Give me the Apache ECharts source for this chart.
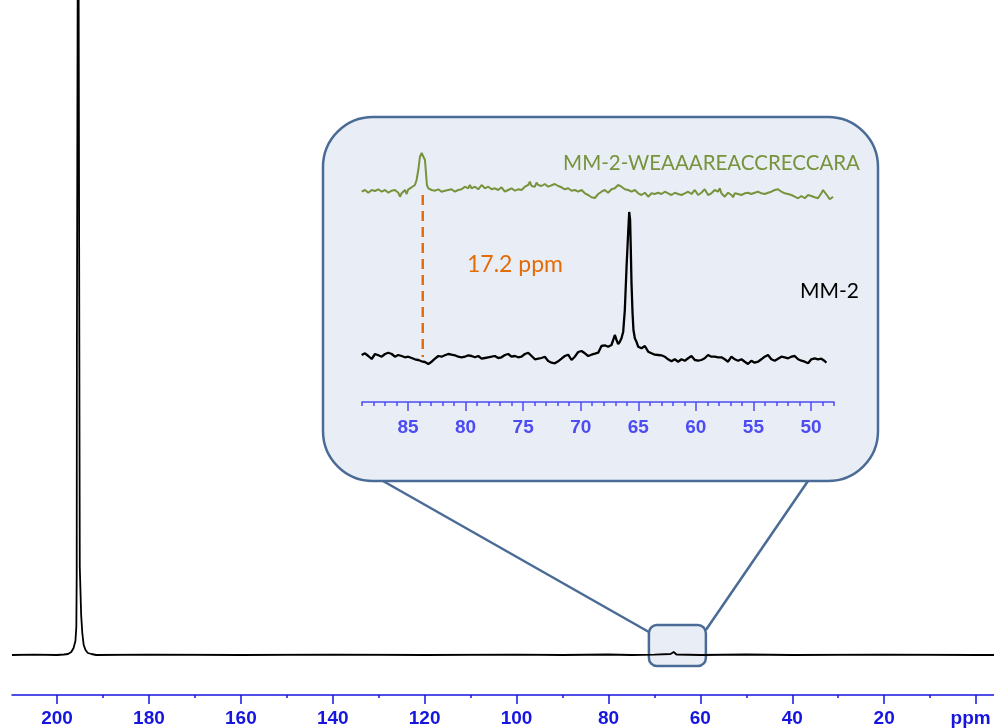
<!DOCTYPE html>
<html><head><meta charset="utf-8">
<script src="https://cdn.jsdelivr.net/npm/echarts@6/dist/echarts.min.js"></script>
<style>html,body{margin:0;padding:0;background:#fff}#c{width:994px;height:728px}</style>
</head><body><div id="c"></div>
<script>
// ---- tick values ----
const mainMajorTicks = [200,180,160,140,120,100,80,60,40,20,0];
const mainMinorTicks = [190,170,150,130,110,90,70,50,30,10];
const insetMajorTicks = [85,80,75,70,65,60,55,50];
const insetMinorTicks = [89,88,87,86,84,83,82,81,79,78,77,76,74,73,72,71,69,68,67,66,64,63,62,61,59,58,57,56,54,53,52,51,49,48];
const mainRange = [-3.9, 209.8];
const insetRange = [48, 89];

// ---- full spectrum [ppm, intensity] ----
const mainSpectrum = [[209.8,0],[205,0.3],[200,0],[198.5,0.5],[197.6,1],[196.9,3],[196.4,7],[196.0,14],[195.8,28],[195.72,80],[195.68,300],[195.45,300],[195.4,900],[195.15,900],[195.05,88],[194.85,88],[194.75,40],[194.5,22],[194.2,10],[193.8,5],[193.3,2],[192.5,1],[191.5,0],[180,0.3],[160,0],[140,0.3],[120,0],[100,0.3],[90,0],[80,0.5],[75,0],[70,0.3],[66.5,1],[65.8,3],[65.2,0.5],[60,0],[50,0.5],[40,0],[20,0.3],[0,0],[-3.9,0]];

// ---- inset: MM-2 [ppm, intensity] ----
const blackSpectrum = [[89.03,2.0],[88.74,3.7],[88.45,1.0],[88.16,-2.0],[87.87,3.0],[87.58,1.7],[87.29,0.3],[87.00,3.0],[86.71,4.3],[86.42,3.0],[86.14,0.3],[85.85,2.0],[85.56,1.0],[85.27,-0.3],[84.98,0.3],[84.69,-1.0],[84.40,-2.3],[84.11,-3.0],[83.82,-4.3],[83.53,-5.0],[83.24,-7.0],[82.95,-4.7],[82.66,-1.7],[82.37,1.0],[82.09,0.3],[81.80,1.7],[81.51,3.0],[81.22,2.3],[80.93,1.7],[80.64,0.3],[80.35,-0.3],[80.06,0.3],[79.77,1.7],[79.48,1.0],[79.19,-0.3],[78.90,1.0],[78.61,-1.7],[78.32,-1.0],[78.03,-0.3],[77.74,0.3],[77.46,1.0],[77.17,-1.0],[76.88,-0.3],[76.59,2.0],[76.30,3.0],[76.01,0.3],[75.72,1.0],[75.43,-0.3],[75.14,0.3],[74.85,3.0],[74.56,4.3],[74.27,1.0],[73.98,-2.3],[73.69,-1.7],[73.41,-1.0],[73.12,0.3],[72.83,-4.0],[72.54,-5.7],[72.25,-6.3],[71.96,-4.3],[71.67,-1.7],[71.38,1.0],[71.09,2.3],[70.80,-3.0],[70.51,0.3],[70.22,5.0],[69.93,6.0],[69.64,3.7],[69.35,1.0],[69.07,2.3],[68.77,3.3],[68.48,4.3],[68.20,11],[67.91,11.7],[67.62,10.3],[67.33,12],[67.18,17],[67.04,22],[66.89,17],[66.75,13],[66.60,15.3],[66.46,18.7],[66.31,25.3],[66.17,47],[66.02,90],[65.88,124],[65.79,145],[65.71,137],[65.65,107],[65.59,74],[65.50,44],[65.42,27],[65.30,18.7],[65.16,15.3],[65.01,10.3],[64.72,8.7],[64.43,11],[64.14,5.3],[63.85,3.7],[63.57,2.3],[63.28,2.0],[62.99,1.7],[62.70,0.3],[62.41,-2.3],[62.12,-4.3],[61.83,-2.3],[61.54,-4.7],[61.25,-2.3],[60.96,-3.7],[60.67,-1.3],[60.38,1.0],[60.09,-3.0],[59.80,-3.7],[59.52,-3.0],[59.23,-1.3],[58.94,2.0],[58.65,0.3],[58.36,0.3],[58.07,-0.3],[57.78,-0.3],[57.49,-2.3],[57.20,-4.7],[56.91,0.3],[56.62,-2.3],[56.33,-3.7],[56.04,-2.3],[55.75,-4.7],[55.47,-7.0],[55.18,-3.7],[54.89,-5.7],[54.60,-4.7],[54.31,-2.3],[54.02,0.3],[53.73,2.0],[53.44,-2.3],[53.15,-3.7],[52.86,-1.7],[52.57,0.3],[52.28,-0.3],[51.99,-1.3],[51.70,0.3],[51.41,1.0],[51.12,-2.3],[50.83,-3.7],[50.54,-4.7],[50.25,-6.3],[49.97,-2.3],[49.68,-1.3],[49.39,-2.3],[49.10,-1.7],[48.81,-4.0],[48.66,-5.7]];

// ---- inset: MM-2-WEAAAREACCRECCARA [ppm, intensity] ----
const greenSpectrum = [[89.03,-1.7],[88.74,0],[88.45,-2.7],[88.16,0],[87.87,-1],[87.58,0.7],[87.29,-1.7],[87.00,0],[86.71,-2.7],[86.42,-0.7],[86.14,0],[85.85,-2.7],[85.70,-6.7],[85.56,-3.3],[85.27,0],[85.12,-4],[84.98,0.7],[84.69,2.7],[84.40,5],[84.26,10],[84.11,20],[83.97,33],[83.82,37],[83.68,38.3],[83.53,30],[83.44,16.7],[83.36,5],[83.24,1.7],[82.95,0],[82.66,-0.7],[82.37,0.7],[82.09,-1.7],[81.80,-0.7],[81.51,0],[81.22,0.7],[80.93,-1.7],[80.64,0],[80.35,0.7],[80.06,3.3],[79.77,1.7],[79.63,5],[79.48,1.7],[79.19,3.3],[78.90,0.7],[78.61,5],[78.32,1.7],[78.03,3.3],[77.74,0.7],[77.46,1.7],[77.17,0],[76.88,2.7],[76.59,-1.7],[76.30,0],[76.01,1.7],[75.72,-0.7],[75.43,0.7],[75.14,0],[74.85,3.3],[74.56,5],[74.42,8.3],[74.27,4],[73.98,3.3],[73.84,7.3],[73.69,5],[73.41,4],[73.12,6],[72.83,3.3],[72.54,4.7],[72.25,6],[71.96,4],[71.67,2.7],[71.38,0.7],[71.09,1.7],[70.80,-0.7],[70.51,0],[70.22,-1.7],[69.93,0],[69.64,-3.3],[69.35,-5],[69.07,-7.3],[68.77,-8],[68.48,-4],[68.20,-1.7],[67.91,0],[67.62,-2.7],[67.33,0.7],[67.04,1.7],[66.75,5],[66.60,6.7],[66.46,3.3],[66.31,5],[66.17,0.7],[65.88,0],[65.59,-1.7],[65.30,0],[65.01,-3.3],[64.72,-5],[64.43,-2.7],[64.14,-6.7],[63.85,-3.3],[63.57,-4],[63.28,-2.7],[62.99,-4],[62.70,-1.7],[62.41,-3.3],[62.12,-5],[61.83,-2.7],[61.54,-4],[61.25,-5],[60.96,-3.3],[60.67,-1.7],[60.38,-4],[60.09,0],[59.80,-5],[59.52,-2.7],[59.23,0.7],[58.94,-5],[58.65,-3.3],[58.36,0],[58.07,-1.7],[57.92,1.7],[57.78,-3.3],[57.49,-6.7],[57.20,-2.7],[56.91,-5],[56.77,-7.3],[56.62,-3.3],[56.33,-4],[56.04,-5],[55.75,-3.3],[55.47,-2.7],[55.18,-4],[54.89,-2.7],[54.60,-1.7],[54.31,-3.3],[54.02,-4],[53.73,-2.7],[53.44,-1.7],[53.15,0],[53.00,1.7],[52.86,0.7],[52.57,-1.7],[52.28,-3.3],[51.99,-4],[51.70,-5],[51.41,-6.7],[51.12,-8.3],[50.98,-10],[50.83,-6],[50.54,-8.3],[50.25,-5],[49.97,-6],[49.68,-7.3],[49.39,-8.3],[49.10,-3.3],[48.95,0],[48.81,-1.7],[48.52,-6.7],[48.37,-9.3],[48.08,-6.7]];

// ---- shift marker (ppm, intensity in MM-2 frame) ----
const shiftMarker = [[83.72,162],[83.72,0]];
const zoomBoxPpm = [71.2, 58.8];
const zoomBoxVal = [30, -11];
const greenName = 'MM-2-WEAAAREACCRECCARA';
const blackName = 'MM-2';
const shiftText = '17.2 ppm';
const unitLabel = 'ppm';

const mainBlue = '#1616e0';
const insetBlue = '#4c4cf2';
const frame = '#4a6b96';
const fill = '#e9eef6';

const chart = echarts.init(document.getElementById('c'), null, {renderer:'canvas'});
const labelFont = {fontFamily:'Liberation Sans', fontWeight:'bold', fontSize:19};

function xAx(grid, range, extra) {
  return Object.assign({gridIndex:grid, type:'value', min:range[0], max:range[1], inverse:true,
    position:'bottom', splitLine:{show:false}}, extra);
}

chart.setOption({
  animation:false,
  backgroundColor:'#fff',
  grid:[
    {left:12, right:0, top:0, bottom:33, outerBoundsMode:'none', containLabel:false},
    {left:362, top:140, width:472, height:262, outerBoundsMode:'none', containLabel:false},
    {left:362, top:140, width:472, height:262, outerBoundsMode:'none', containLabel:false}
  ],
  xAxis:[
    xAx(0, mainRange, {
     axisLine:{show:true, onZero:false, lineStyle:{color:mainBlue, width:1.5}},
     axisTick:{show:true, customValues:mainMajorTicks, length:9, lineStyle:{color:mainBlue, width:1.5}},
     axisLabel:Object.assign({customValues:mainMajorTicks, color:mainBlue, margin:14,
       formatter:v=> v===0 ? '{u|'+unitLabel+'}' : String(v),
       rich:{u:Object.assign({color:mainBlue, padding:[0,11,0,0]}, labelFont)}}, labelFont)}),
    xAx(0, mainRange, {
     axisLine:{show:false, onZero:false},
     axisTick:{show:true, customValues:mainMinorTicks, length:3, lineStyle:{color:mainBlue, width:1.5}},
     axisLabel:{show:false}}),
    xAx(1, insetRange, {z:5,
     axisLine:{show:true, onZero:false, lineStyle:{color:insetBlue, width:1.5}},
     axisTick:{show:true, customValues:insetMajorTicks, length:9, lineStyle:{color:insetBlue, width:1.5}},
     axisLabel:Object.assign({customValues:insetMajorTicks, color:insetBlue, margin:16}, labelFont)}),
    xAx(1, insetRange, {z:5,
     axisLine:{show:false, onZero:false},
     axisTick:{show:true, customValues:insetMinorTicks, length:4, lineStyle:{color:insetBlue, width:1.5}},
     axisLabel:{show:false}}),
    xAx(2, insetRange, {show:false})
  ],
  yAxis:[
    {gridIndex:0, type:'value', min:-40, max:655, show:false},
    {gridIndex:1, type:'value', min:-45, max:217, show:false},
    {gridIndex:2, type:'value', min:-212, max:50, show:false}
  ],
  series:[
    {type:'line', xAxisIndex:0, yAxisIndex:0, data:mainSpectrum, showSymbol:false, clip:true, z:2,
     lineStyle:{color:'#000', width:1.8}},
    {type:'line', name:blackName, xAxisIndex:2, yAxisIndex:1, data:blackSpectrum, showSymbol:false, z:4,
     lineStyle:{color:'#000', width:2.3}},
    {type:'line', xAxisIndex:2, yAxisIndex:1, data:shiftMarker, showSymbol:false, z:4,
     lineStyle:{color:'#e36c09', width:2.5, type:[10,6]}},
    {type:'line', name:greenName, xAxisIndex:4, yAxisIndex:2, data:greenSpectrum, showSymbol:false, z:4,
     lineStyle:{color:'#77933c', width:2}}
  ]
});

const p1 = chart.convertToPixel({xAxisIndex:0, yAxisIndex:0}, [zoomBoxPpm[0], zoomBoxVal[0]]);
const p2 = chart.convertToPixel({xAxisIndex:0, yAxisIndex:0}, [zoomBoxPpm[1], zoomBoxVal[1]]);
const inset = {x:323, y:117, w:555, h:364};
const shadow = {shadowColor:'rgba(0,0,0,0.3)', shadowBlur:2, shadowOffsetX:1, shadowOffsetY:1};

chart.setOption({
  graphic:[
    {type:'rect', z:1, shape:{x:inset.x, y:inset.y, width:inset.w, height:inset.h, r:50},
     style:{fill:fill, stroke:frame, lineWidth:2.5}},
    {type:'rect', z:1, shape:{x:p1[0], y:p1[1], width:p2[0]-p1[0], height:p2[1]-p1[1], r:8},
     style:{fill:fill, stroke:frame, lineWidth:2.5}},
    {type:'line', z:1, shape:{x1:383, y1:inset.y+inset.h, x2:p1[0], y2:p1[1]+7}, style:{stroke:frame, lineWidth:2.5}},
    {type:'line', z:1, shape:{x1:808, y1:inset.y+inset.h, x2:p2[0], y2:p1[1]+5}, style:{stroke:frame, lineWidth:2.5}},
    {type:'text', z:10, style:Object.assign({text:greenName, x:860, y:163, fill:'#77933c', font:'20.5px Lato', align:'right', verticalAlign:'middle'}, shadow)},
    {type:'text', z:10, style:Object.assign({text:shiftText, x:467, y:265, fill:'#e36c09', font:'23px Lato', align:'left', verticalAlign:'middle'}, shadow)},
    {type:'text', z:10, style:Object.assign({text:blackName, x:859, y:291, fill:'#000', font:'21px Lato', align:'right', verticalAlign:'middle'}, shadow)}
  ]
});
</script></body></html>
